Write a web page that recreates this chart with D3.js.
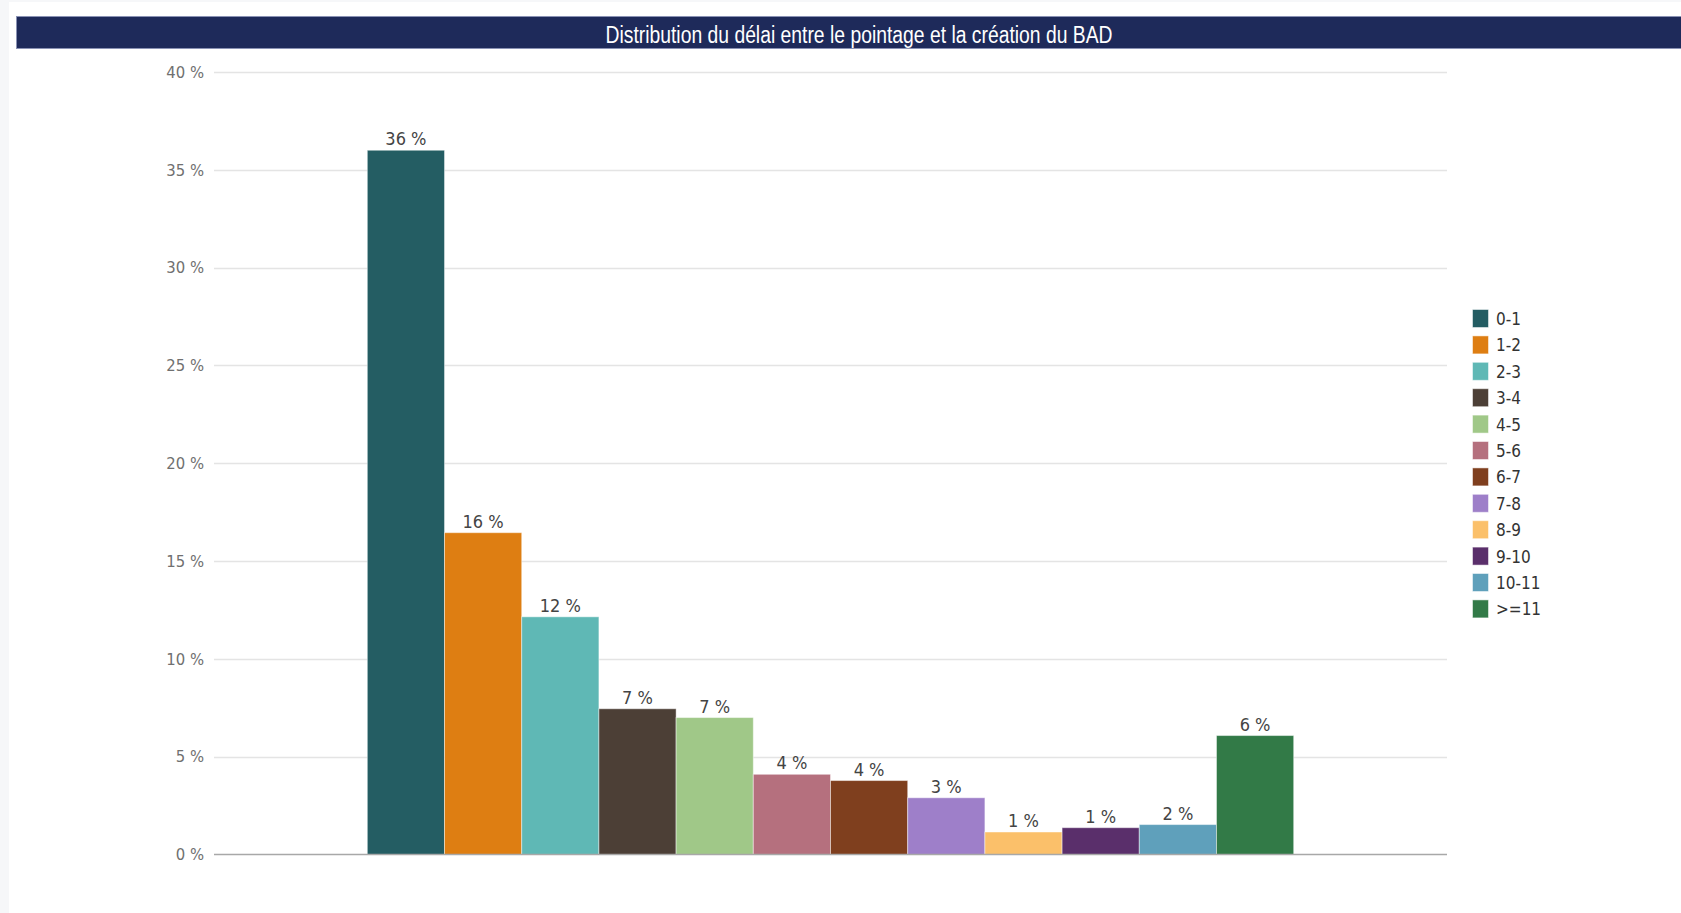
<!DOCTYPE html>
<html>
<head>
<meta charset="utf-8">
<script src="https://cdn.jsdelivr.net/npm/d3@7"></script>
<style>
  html, body { margin: 0; padding: 0; background: #f6f7f9; }
  svg { display: block; }
</style>
</head>
<body>
<svg id="chart" width="1681" height="913"></svg>
<script>
const title = "Distribution du délai entre le pointage et la création du BAD";
const categories = ["all"];
const seriesNames = ["0-1", "1-2", "2-3", "3-4", "4-5", "5-6", "6-7", "7-8", "8-9", "9-10", "10-11", ">=11"];
const seriesValues = [36.0, 16.45, 12.15, 7.45, 7.0, 4.1, 3.78, 2.9, 1.15, 1.37, 1.53, 6.08];
const seriesLabels = ["36 %", "16 %", "12 %", "7 %", "7 %", "4 %", "4 %", "3 %", "1 %", "1 %", "2 %", "6 %"];
const seriesColors = ["#245d63", "#de7e12", "#5fb8b5", "#4c3f36", "#a0c888", "#b5707e", "#7f3f1e", "#9e7fc9", "#fbc06a", "#5a2f6b", "#5fa0bb", "#327a47"];
const yTicks = [0, 5, 10, 15, 20, 25, 30, 35, 40];

const svg = d3.select("#chart");
const font = "'DejaVu Sans Condensed', 'DejaVu Sans', sans-serif";

// white panel
svg.append("rect").attr("x", 9).attr("y", 2).attr("width", 1672).attr("height", 911).attr("fill", "#ffffff");

// title bar
svg.append("rect").attr("x", 16.5).attr("y", 16.5).attr("width", 1670).attr("height", 32)
  .attr("fill", "#1e2a5a").attr("stroke", "#8a92b4").attr("stroke-width", 1);
svg.append("text").attr("x", 859).attr("y", 43)
  .attr("text-anchor", "middle").attr("fill", "#ffffff")
  .attr("textLength", 507).attr("lengthAdjust", "spacingAndGlyphs")
  .style("font-family", "'Liberation Sans', Arial, sans-serif")
  .style("font-size", "23px")
  .text(title);

const plotLeft = 214, plotRight = 1447;
const y = d3.scaleLinear().domain([0, 40]).range([854.5, 72]);
const x0 = d3.scaleBand().domain(categories).range([plotLeft, plotRight]).paddingInner(0).paddingOuter(0.1655);
const x1 = d3.scaleBand().domain(seriesNames).range([0, x0.bandwidth()]).padding(0);
const color = d3.scaleOrdinal().domain(seriesNames).range(seriesColors);

// gridlines
svg.append("g").selectAll("line").data(yTicks.filter(d => d > 0)).join("line")
  .attr("x1", plotLeft).attr("x2", plotRight)
  .attr("y1", d => Math.round(y(d)) + 0.5).attr("y2", d => Math.round(y(d)) + 0.5)
  .attr("stroke", "#e4e4e4").attr("stroke-width", 1.5);

// y axis labels
const yAxis = d3.axisLeft(y).tickValues(yTicks).tickSize(0).tickPadding(0).tickFormat(d => d + " %");
const gy = svg.append("g").attr("transform", `translate(${plotLeft - 10},0)`).call(yAxis);
gy.select(".domain").remove();
gy.selectAll("text").attr("fill", "#707070").style("font-family", font).style("font-size", "16.5px");

// bars
const g = svg.append("g");
const groups = g.selectAll("g.grp").data(categories).join("g")
  .attr("transform", d => `translate(${x0(d)},0)`);
const data = seriesNames.map((s, i) => ({ name: s, value: seriesValues[i], label: seriesLabels[i] }));
groups.selectAll("rect").data(data).join("rect")
  .attr("x", d => x1(d.name))
  .attr("y", d => y(d.value))
  .attr("width", x1.bandwidth())
  .attr("height", d => y(0) - y(d.value))
  .attr("fill", d => color(d.name))
  .attr("stroke", "rgba(255,255,255,0.45)")
  .attr("stroke-width", 1);
groups.selectAll("text").data(data).join("text")
  .attr("x", d => x1(d.name) + x1.bandwidth() / 2)
  .attr("y", d => y(d.value) - 5)
  .attr("text-anchor", "middle")
  .attr("fill", "#444444")
  .style("font-family", font).style("font-size", "18px")
  .text(d => d.label);

// baseline
svg.append("line").attr("x1", plotLeft).attr("x2", plotRight)
  .attr("y1", y(0)).attr("y2", y(0))
  .attr("stroke", "#a8a8a8").attr("stroke-width", 1.5);

// legend
const legend = svg.append("g").attr("transform", "translate(1472,309)");
const li = legend.selectAll("g").data(seriesNames).join("g")
  .attr("transform", (d, i) => `translate(0,${i * 26.4})`);
li.append("rect").attr("x", 0.5).attr("y", 0.5).attr("width", 16).attr("height", 18)
  .attr("fill", d => color(d)).attr("stroke", "rgba(255,255,255,0.5)");
li.append("text").attr("x", 24).attr("y", 16)
  .attr("fill", "#333333").style("font-family", font).style("font-size", "17px")
  .text(d => d);
</script>
</body>
</html>
